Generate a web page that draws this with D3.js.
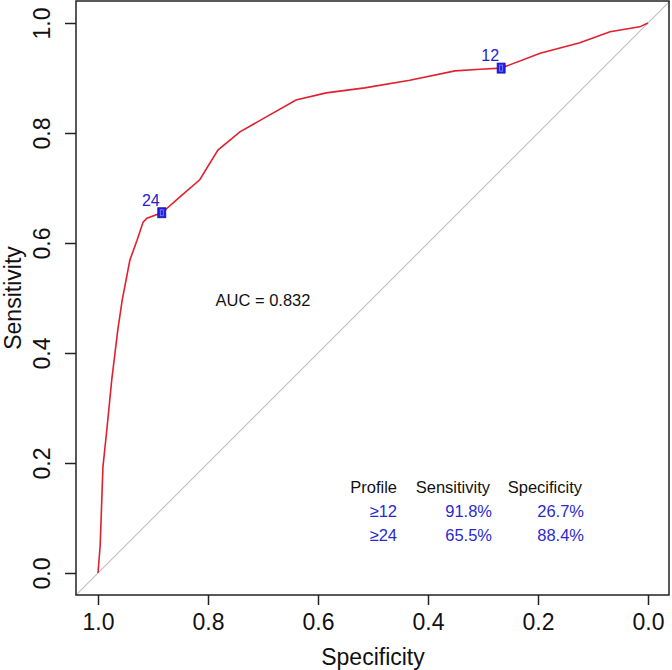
<!DOCTYPE html>
<html><head><meta charset="utf-8">
<script src="https://cdn.jsdelivr.net/npm/d3@7"></script>
<style>body{margin:0;background:#fff}svg{display:block}text{font-family:"Liberation Sans",Arial,sans-serif}</style>
</head><body><svg id="c" width="672" height="670"></svg>
<script>
// ROC curve points: specificity, sensitivity
const specificity = [1.000,0.996,0.991,0.984,0.975,0.964,0.956,0.942,0.929,0.918,0.911,0.884,0.878,0.851,0.815,0.782,0.742,0.698,0.640,0.585,0.515,0.433,0.351,0.305,0.267,0.196,0.124,0.069,0.015,0.000];
const sensitivity = [0.000,0.051,0.193,0.260,0.351,0.442,0.496,0.569,0.605,0.638,0.645,0.655,0.660,0.684,0.715,0.769,0.802,0.827,0.860,0.873,0.882,0.896,0.913,0.916,0.918,0.945,0.964,0.984,0.993,1.000];
const thresholdLabels = ["12","24"];
const thresholdSpec = [0.267,0.884];
const thresholdSens = [0.918,0.655];
const tableHeader = ["Profile","Sensitivity","Specificity"];
const tableProfile = ["≥12","≥24"];
const tableSens = ["91.8%","65.5%"];
const tableSpec = ["26.7%","88.4%"];
const ticks = [1.0,0.8,0.6,0.4,0.2,0.0];
const aucText = "AUC = 0.832";

const svg = d3.select("#c");
const x = d3.scaleLinear().domain([1.04,-0.04]).range([76,670]);
const y = d3.scaleLinear().domain([-0.04,1.04]).range([595,1]);

svg.append("clipPath").attr("id","clipbox").append("rect")
  .attr("x",76).attr("y",1).attr("width",594).attr("height",594);

// diagonal
svg.append("line").attr("clip-path","url(#clipbox)")
  .attr("x1",x(1.04)).attr("y1",y(-0.04)).attr("x2",x(-0.04)).attr("y2",y(1.04))
  .attr("stroke","#bdbdbd").attr("stroke-width",1.1);

// ROC curve
const pts = specificity.map((s,i)=>[s,sensitivity[i]]);
svg.append("path").datum(pts)
  .attr("d",d3.line().x(d=>x(d[0])).y(d=>y(d[1])))
  .attr("fill","none").attr("stroke","#e0202e").attr("stroke-width",1.6);

// threshold markers
thresholdLabels.forEach((lab,i)=>{
  const cx=x(thresholdSpec[i]), cy=y(thresholdSens[i]);
  svg.append("rect").attr("x",cx-4).attr("y",cy-5).attr("width",8).attr("height",10)
    .attr("fill","#1f1fe8").attr("stroke","#1010b0").attr("stroke-width",0.8);
  svg.append("rect").attr("x",cx-1.5).attr("y",cy-3).attr("width",3).attr("height",6)
    .attr("fill","none").attr("stroke","#8a8aff").attr("stroke-width",0.8);
  svg.append("text").attr("x",cx-11).attr("y",cy-7).attr("text-anchor","middle")
    .attr("font-size",16).attr("fill","#2222cc").text(lab);
});

// box
svg.append("rect").attr("x",76).attr("y",1).attr("width",593).attr("height",594)
  .attr("fill","none").attr("stroke","#222").attr("stroke-width",1.5);

// x axis
const xa = svg.append("g").attr("transform","translate(0,595)")
  .call(d3.axisBottom(x).tickValues(ticks).tickFormat(d3.format(".1f")).tickSize(10).tickPadding(9));
xa.select(".domain").remove();
xa.selectAll("line").attr("stroke","#222").attr("stroke-width",1.5);
xa.selectAll("text").attr("font-size",23).attr("fill","#111").attr("font-family","Liberation Sans, Arial, sans-serif");

// y axis
const ya = svg.append("g").attr("transform","translate(76,0)")
  .call(d3.axisLeft(y).tickValues(ticks).tickFormat(d3.format(".1f")).tickSize(11).tickPadding(0));
ya.select(".domain").remove();
ya.selectAll("line").attr("stroke","#222").attr("stroke-width",1.5);
ya.selectAll("text").attr("font-size",23).attr("fill","#111").attr("font-family","Liberation Sans, Arial, sans-serif")
  .attr("x",0).attr("text-anchor","middle")
  .attr("transform","translate(-34,0) rotate(-90)").attr("dy","0.35em");

// axis titles
svg.append("text").attr("x",373).attr("y",665).attr("text-anchor","middle")
  .attr("font-size",23).attr("fill","#111").text("Specificity");
svg.append("text").attr("transform","translate(21,298) rotate(-90)").attr("text-anchor","middle")
  .attr("font-size",23).attr("fill","#111").text("Sensitivity");

// AUC
svg.append("text").attr("x",263).attr("y",306).attr("text-anchor","middle")
  .attr("font-size",16.5).attr("fill","#111").text(aucText);

// table
const colX = [397,490,582];
tableHeader.forEach((h,i)=>{
  svg.append("text").attr("x",colX[i]).attr("y",493).attr("text-anchor","end")
    .attr("font-size",16.5).attr("fill","#111").text(h);
});
tableProfile.forEach((p,r)=>{
  const yy = 517 + r*23.5;
  [p,tableSens[r],tableSpec[r]].forEach((v,i)=>{
    svg.append("text").attr("x",colX[i]+(i>0?2:0)).attr("y",yy).attr("text-anchor","end")
      .attr("font-size",16.5).attr("fill","#2a2ad0").text(v);
  });
});
</script></body></html>
